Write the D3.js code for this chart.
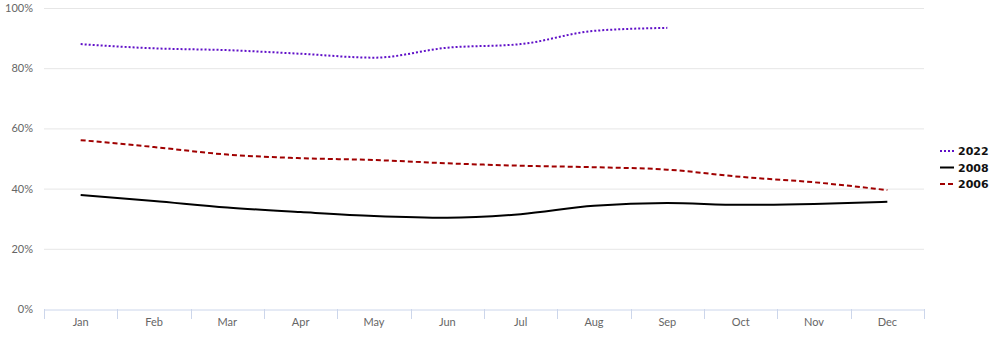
<!DOCTYPE html>
<html><head><meta charset="utf-8">
<script src="https://cdn.jsdelivr.net/npm/d3@7"></script>
<style>body{margin:0;background:#fff;} svg{display:block;}</style>
</head><body>
<svg id="c" width="1000" height="340"></svg>
<script>
const months = ["Jan","Feb","Mar","Apr","May","Jun","Jul","Aug","Sep","Oct","Nov","Dec"];
const yTicks = [0,20,40,60,80,100];
const s2022 = [88.0,86.6,86.0,84.8,83.5,86.8,88.0,92.4,93.4];
const s2008 = [37.9,35.9,33.7,32.2,30.9,30.3,31.5,34.3,35.2,34.6,34.9,35.6];
const s2006 = [56.1,53.8,51.3,50.1,49.5,48.4,47.6,47.1,46.3,43.9,42.1,39.5];
const seriesNames = ["2022","2008","2006"];
const seriesColors = ["#6010c8","#000000","#a00000"];
const seriesDash = ["2,2","","5,3"];
const seriesData = [s2022, s2008, s2006];

const svg = d3.select("#c");
const pl = 44, pr = 924, pt = 8, pb = 309;
const x = d3.scaleBand().domain(months).range([pl, pr]);
const y = d3.scaleLinear().domain([0,100]).range([pb, pt]);
const font = "Lato, 'Open Sans', sans-serif";

// grid
svg.append("g").selectAll("line").data(yTicks.filter(d=>d>0)).join("line")
  .attr("x1", pl).attr("x2", pr)
  .attr("y1", d=>y(d)+0.5).attr("y2", d=>y(d)+0.5)
  .attr("stroke", "#e6e6e6").attr("stroke-width", 1);

// y labels
svg.append("g").selectAll("text").data(yTicks).join("text")
  .attr("x", 33).attr("y", d=>y(d)+4)
  .attr("text-anchor","end").attr("font-family", font).attr("font-size", 11)
  .attr("fill","#666").text(d=>d+"%");

// x axis
const xa = svg.append("g").attr("transform", `translate(0,${pb+0.5})`)
  .call(d3.axisBottom(x).tickSize(0).tickPadding(9));
xa.select(".domain").attr("stroke","#ccd6eb");
xa.selectAll("text").attr("font-family", font).attr("font-size", 11).attr("fill","#666");
const bounds = months.map(m=>x(m)).concat([pr]);
svg.append("g").selectAll("line").data(bounds).join("line")
  .attr("x1", d=>Math.round(d)+0.5).attr("x2", d=>Math.round(d)+0.5)
  .attr("y1", pb).attr("y2", pb+10)
  .attr("stroke","#ccd6eb");

// lines
const line = d3.line().x((d,i)=>x(months[i]) + x.bandwidth()/2).y(d=>y(d)).curve(d3.curveMonotoneX);
seriesData.forEach((s,k)=>{
  svg.append("path").datum(s).attr("d", line).attr("fill","none")
    .attr("stroke", seriesColors[k]).attr("stroke-width", 2)
    .attr("stroke-dasharray", seriesDash[k] || null);
});

// legend
const lg = svg.append("g");
seriesNames.forEach((n,k)=>{
  const ly = 151 + k*16.5;
  lg.append("line").attr("x1",940).attr("x2",954).attr("y1",ly).attr("y2",ly)
    .attr("stroke",seriesColors[k]).attr("stroke-width",2)
    .attr("stroke-dasharray", seriesDash[k] || null);
  lg.append("text").attr("x",958).attr("y",ly+4)
    .attr("font-family","'DejaVu Sans', Verdana, sans-serif").attr("font-size",11).attr("font-weight","bold")
    .attr("fill","#111").text(n);
});
</script>
</body></html>
